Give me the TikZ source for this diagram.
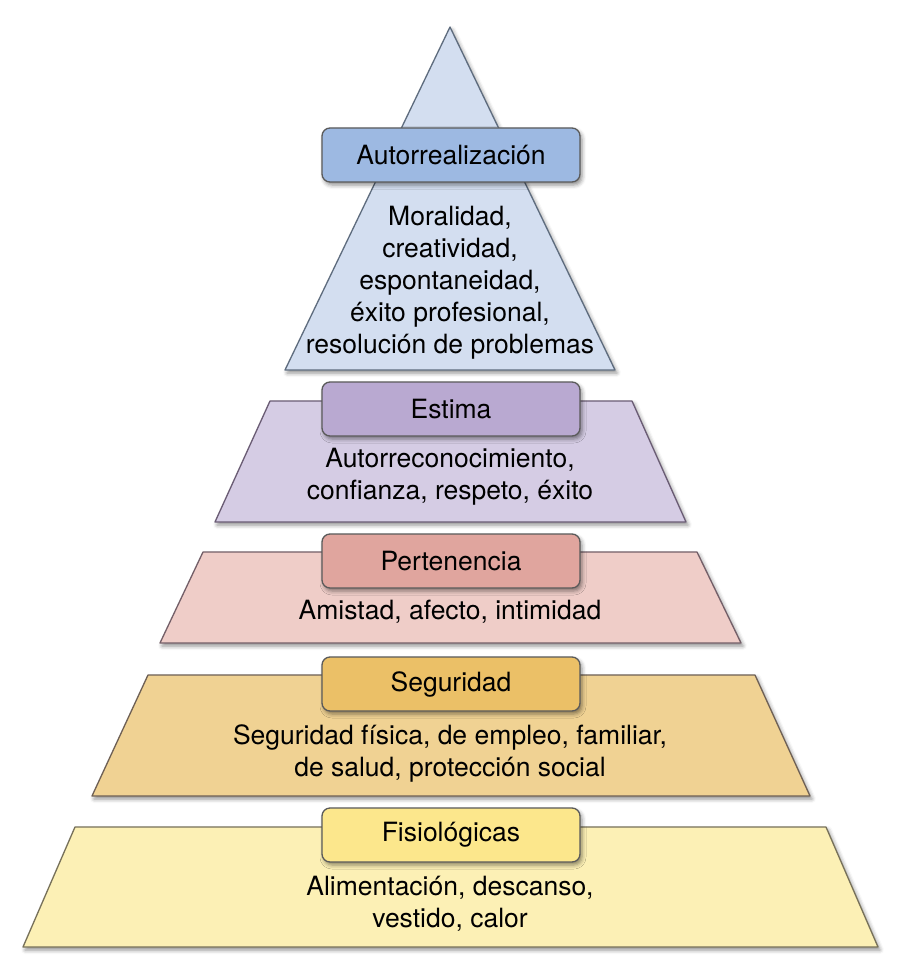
\documentclass[tikz,border=0pt]{standalone}
\usepackage{fontspec}
\setmainfont{TeX Gyre Heros}
\usetikzlibrary{shadows.blur}
\definecolor{fA}{HTML}{D3DEF0}\definecolor{bA}{HTML}{9DB9E2}\definecolor{sA}{HTML}{5E6C7E}
\definecolor{fB}{HTML}{D5CCE4}\definecolor{bB}{HTML}{B9A9D1}\definecolor{sB}{HTML}{6A5C74}
\definecolor{fC}{HTML}{EFCDC8}\definecolor{bC}{HTML}{E0A59E}\definecolor{sC}{HTML}{735F68}
\definecolor{fD}{HTML}{F0D293}\definecolor{bD}{HTML}{EBC067}\definecolor{sD}{HTML}{6E6055}
\definecolor{fE}{HTML}{FCF0B5}\definecolor{bE}{HTML}{FCE78C}\definecolor{sE}{HTML}{77715A}
\definecolor{boxline}{HTML}{5A5A5A}
\begin{document}
\begin{tikzpicture}[x=1pt,y=-1pt,
  levelshape/.style={draw=#1, line width=1.3pt, line join=round,
    blur shadow={shadow xshift=2pt, shadow yshift=-3pt, shadow blur radius=4pt, shadow opacity=45}},
  labbox/.style={draw=boxline, line width=1.3pt, rounded corners=8pt,
    minimum width=258pt, minimum height=54pt, inner sep=0pt,
    font=\fontsize{26.5}{32}\selectfont,
    blur shadow={shadow xshift=2pt, shadow yshift=-3pt, shadow blur radius=4pt, shadow opacity=45}},
  bodytxt/.style={align=center, inner sep=0pt, font=\fontsize{26.5}{32}\selectfont}]
\useasboundingbox (0,0) rectangle (906,973);
% level 1: triangle
\path[levelshape=sA, fill=fA] (450,27) -- (615,370) -- (285,370) -- cycle;
\node[labbox, fill=bA] (lA) at (451,155) {Autorrealización};
\node[bodytxt] (tA) at (450,283) {Moralidad,\\creatividad,\\espontaneidad,\\éxito profesional,\\resolución de problemas};
% level 2
\path[levelshape=sB, fill=fB] (270,401) -- (632,401) -- (686,522) -- (215,522) -- cycle;
\node[labbox, fill=bB] (lB) at (451,409) {Estima};
\node[bodytxt] (tB) at (450,477) {Autorreconocimiento,\\confianza, respeto, éxito};
% level 3
\path[levelshape=sC, fill=fC] (203,552) -- (697,552) -- (741,643) -- (160,643) -- cycle;
\node[labbox, fill=bC] (lC) at (451,561) {Pertenencia};
\node[bodytxt] (tC) at (450,612) {Amistad, afecto, intimidad};
% level 4
\path[levelshape=sD, fill=fD] (148,675) -- (755,675) -- (810,796) -- (92,796) -- cycle;
\node[labbox, fill=bD] (lD) at (451,684) {Seguridad};
\node[bodytxt] (tD) at (450,753) {Seguridad física, de empleo, familiar,\\de salud, protección social};
% level 5
\path[levelshape=sE, fill=fE] (75,827) -- (826,827) -- (878,947) -- (23,947) -- cycle;
\node[labbox, fill=bE] (lE) at (451,835) {Fisiológicas};
\node[bodytxt] (tE) at (450,904) {Alimentación, descanso,\\vestido, calor};
\end{tikzpicture}
\end{document}
